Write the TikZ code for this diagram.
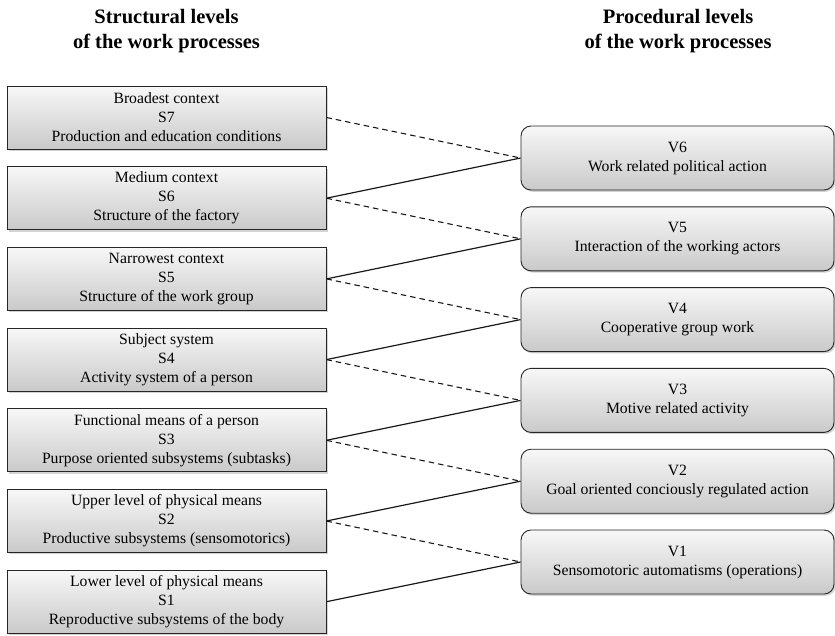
\documentclass[tikz,border=0pt]{standalone}
\usepackage{fontspec}
\setmainfont{Liberation Serif}
\usetikzlibrary{shadows}
\begin{document}
\begin{tikzpicture}[x=1pt,y=-1pt,
  levelbox/.style={draw=black!85, line width=0.9pt, top color=gray!6, bottom color=gray!42,
    drop shadow={shadow xshift=1.6pt, shadow yshift=-1.8pt, opacity=0.35},
    align=center, inner sep=0pt, font=\fontsize{15.7}{19}\selectfont},
  sbox/.style={levelbox, minimum width=319pt, minimum height=63pt},
  vbox/.style={levelbox, rounded corners=10pt, minimum width=313pt, minimum height=64pt},
  heading/.style={align=center, inner sep=0pt, font=\fontsize{20.5}{25}\selectfont\bfseries},
  solidlink/.style={line width=1.2pt, draw=black!90},
  dashlink/.style={line width=1.1pt, draw=black!90, dash pattern=on 5.5pt off 4pt}]
\useasboundingbox (0,0) rectangle (835,635);

% column headings
\node[heading] (hs) at (166.5,31) {Structural levels\\of the work processes};
\node[heading] (hv) at (678,31) {Procedural levels\\of the work processes};

% structural levels
\node[sbox] (s7) at (166.5,117.5) {Broadest context\\S7\\Production and education conditions};
\node[sbox] (s6) at (166.5,198.2) {Medium context\\S6\\Structure of the factory};
\node[sbox] (s5) at (166.5,278.9) {Narrowest context\\S5\\Structure of the work group};
\node[sbox] (s4) at (166.5,359.6) {Subject system\\S4\\Activity system of a person};
\node[sbox] (s3) at (166.5,440.3) {Functional means of a person\\S3\\Purpose oriented subsystems (subtasks)};
\node[sbox] (s2) at (166.5,521.0) {Upper level of physical means\\S2\\Productive subsystems (sensomotorics)};
\node[sbox] (s1) at (166.5,601.7) {Lower level of physical means\\S1\\Reproductive subsystems of the body};

% procedural levels
\node[vbox] (v6) at (677.5,158.0) {V6\\Work related political action};
\node[vbox] (v5) at (677.5,238.8) {V5\\Interaction of the working actors};
\node[vbox] (v4) at (677.5,319.6) {V4\\Cooperative group work};
\node[vbox] (v3) at (677.5,400.4) {V3\\Motive related activity};
\node[vbox] (v2) at (677.5,481.2) {V2\\Goal oriented conciously regulated action};
\node[vbox] (v1) at (677.5,562.0) {V1\\Sensomotoric automatisms (operations)};

% links between the two hierarchies
\draw[dashlink] (s7.east) -- (v6.west);
\draw[solidlink] (s6.east) -- (v6.west);
\draw[dashlink] (s6.east) -- (v5.west);
\draw[solidlink] (s5.east) -- (v5.west);
\draw[dashlink] (s5.east) -- (v4.west);
\draw[solidlink] (s4.east) -- (v4.west);
\draw[dashlink] (s4.east) -- (v3.west);
\draw[solidlink] (s3.east) -- (v3.west);
\draw[dashlink] (s3.east) -- (v2.west);
\draw[solidlink] (s2.east) -- (v2.west);
\draw[dashlink] (s2.east) -- (v1.west);
\draw[solidlink] (s1.east) -- (v1.west);
\end{tikzpicture}
\end{document}
